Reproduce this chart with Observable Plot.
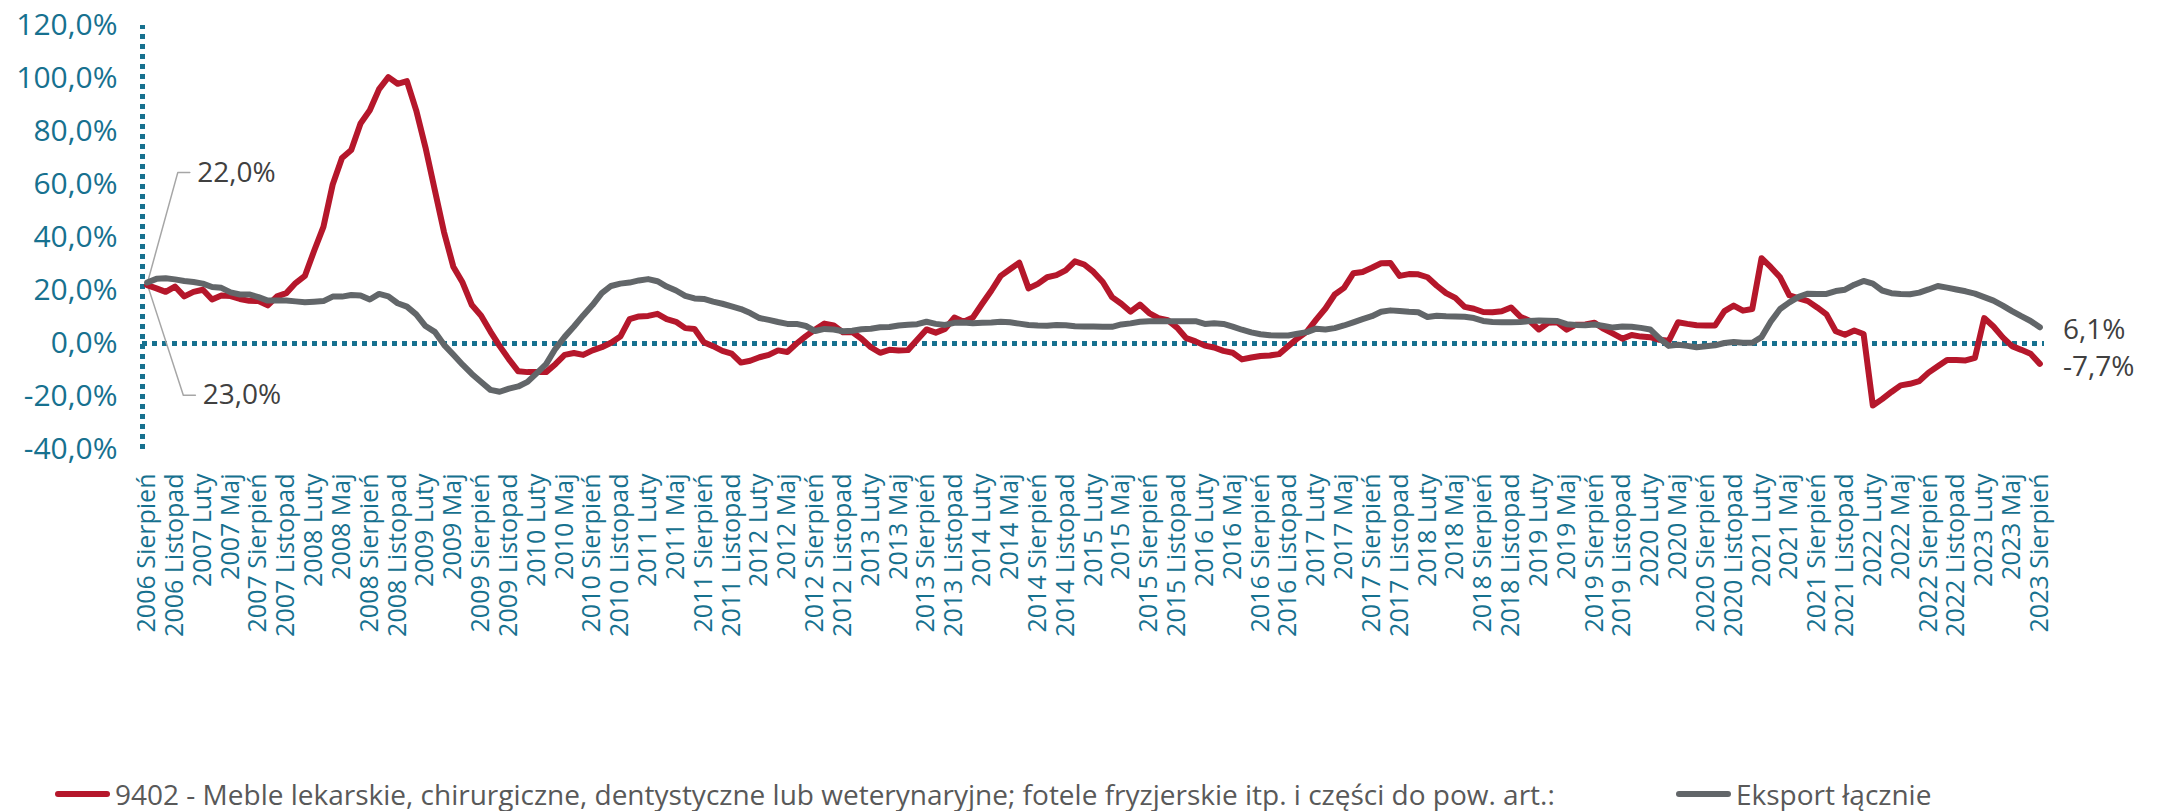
<!DOCTYPE html>
<html>
<head>
<meta charset="utf-8">
<script src="https://cdn.jsdelivr.net/npm/d3@7"></script>
<script src="https://cdn.jsdelivr.net/npm/@observablehq/plot@0.6"></script>
<style>
  html, body { margin: 0; padding: 0; background: #ffffff; }
  #wrap { position: relative; width: 2164px; height: 811px; background: #fff; }
  .leg { position: absolute; top: 777px; height: 34px; line-height: 34px; display: flex; align-items: center;
         font-family: "Open Sans", sans-serif; font-size: 28px; color: #595959; white-space: nowrap; }
  .sw { display: inline-block; width: 55px; height: 6px; border-radius: 3px; margin-right: 5px; }
</style>
</head>
<body>
<div id="wrap">
  <div id="chart"></div>
  <div class="leg" style="left:55px"><span class="sw" style="background:#b5172b"></span><span id="l1"></span></div>
  <div class="leg" style="left:1676px"><span class="sw" style="background:#626669"></span><span id="l2"></span></div>
</div>
<script>
// ---- data ----
const seriesNames = [
  "9402 - Meble lekarskie, chirurgiczne, dentystyczne lub weterynaryjne; fotele fryzjerskie itp. i części do pow. art.:",
  "Eksport łącznie"
];

// monthly, 2006 Sierpień .. 2023 Sierpień (205 months), % y/y
const meble = [
  22.0, 20.8, 19.5, 21.5, 17.8, 19.5, 20.3, 16.6, 18.1, 17.9,
  16.8, 16.1, 16.0, 14.4, 17.8, 19.0, 22.8, 25.5, 35.0, 44.0,
  60.0, 70.0, 73.0, 83.0, 88.0, 96.0, 100.5, 98.0, 99.0, 88.0,
  74.0, 58.0, 42.0, 29.0, 23.0, 14.5, 10.5, 4.5, -1.0, -6.0,
  -10.5, -10.8, -10.8, -10.8, -7.8, -4.3, -3.6, -4.3, -2.6, -1.4,
  0.3, 2.6, 9.2, 10.2, 10.4, 11.2, 9.2, 8.2, 5.8, 5.5,
  0.5, -1.0, -2.8, -3.8, -7.2, -6.5, -5.2, -4.3, -2.6, -3.2,
  0.0, 2.8, 5.3, 7.5, 6.8, 4.2, 4.3, 1.8, -1.4, -3.5,
  -2.4, -2.6, -2.5, 1.4, 5.3, 4.1, 5.5, 9.8, 8.2, 9.8,
  15.0, 20.0, 25.5, 28.0, 30.5, 20.8, 22.5, 25.0, 25.8, 27.6,
  31.0, 29.8, 27.0, 23.2, 17.5, 15.0, 12.0, 14.7, 11.5, 9.6,
  8.8, 6.0, 2.0, 0.8, -0.8, -1.5, -2.8, -3.5, -6.0, -5.3,
  -4.7, -4.5, -4.0, -1.0, 2.0, 4.5, 9.0, 13.2, 18.5, 21.0,
  26.5, 27.0, 28.6, 30.3, 30.4, 25.5, 26.2, 26.1, 25.0, 21.8,
  19.0, 17.2, 13.8, 13.1, 11.9, 11.8, 12.2, 13.6, 10.1, 8.6,
  5.3, 7.8, 8.0, 5.2, 7.1, 7.2, 7.8, 5.5, 3.7, 1.8,
  3.2, 2.6, 2.4, 1.4, 1.0, 8.0, 7.4, 6.9, 6.8, 6.8,
  12.2, 14.3, 12.4, 13.0, 32.2, 28.8, 25.0, 18.2, 17.0, 16.0,
  13.6, 11.0, 4.6, 3.3, 4.9, 3.6, -23.4, -21.0, -18.3, -15.8,
  -15.2, -14.2, -11.0, -8.6, -6.2, -6.2, -6.4, -5.4, 9.6, 6.4,
  2.3, -1.0, -2.4, -3.9, -7.7
];

const eksport = [
  23.0, 24.4, 24.6, 24.2, 23.6, 23.2, 22.6, 21.3, 21.0, 19.3,
  18.5, 18.5, 17.5, 16.2, 16.2, 16.2, 15.9, 15.6, 15.8, 16.0,
  17.7, 17.7, 18.3, 18.1, 16.6, 18.7, 17.8, 15.2, 13.9, 11.0,
  6.6, 4.4, -0.5, -4.2, -8.0, -11.5, -14.5, -17.5, -18.2, -17.0,
  -16.2, -14.5, -11.2, -7.8, -2.0, 2.5, 6.4, 10.6, 14.5, 19.0,
  21.7, 22.6, 23.0, 23.8, 24.3, 23.5, 21.5, 20.0, 18.0, 17.0,
  16.8, 15.8, 15.0, 14.0, 13.0, 11.5, 9.6, 8.9, 8.1, 7.4,
  7.4, 6.6, 4.7, 5.5, 5.3, 4.6, 4.8, 5.4, 5.6, 6.1,
  6.2, 6.8, 7.1, 7.3, 8.2, 7.4, 7.0, 7.8, 7.9, 7.6,
  7.8, 7.9, 8.2, 8.0, 7.5, 7.0, 6.8, 6.7, 7.0, 6.9,
  6.5, 6.4, 6.4, 6.3, 6.3, 7.2, 7.6, 8.2, 8.4, 8.4,
  8.4, 8.4, 8.4, 8.4, 7.4, 7.6, 7.4, 6.4, 5.2, 4.2,
  3.5, 3.1, 3.0, 3.0, 3.7, 4.3, 5.6, 5.3, 5.8, 6.8,
  8.0, 9.2, 10.3, 12.0, 12.5, 12.3, 12.0, 11.8, 10.0, 10.5,
  10.3, 10.2, 10.1, 9.6, 8.5, 8.1, 8.0, 8.0, 8.1, 8.5,
  8.7, 8.6, 8.5, 7.3, 7.0, 6.9, 7.2, 6.6, 6.0, 6.4,
  6.3, 5.9, 5.3, 1.9, -0.9, -0.5, -0.9, -1.4, -1.0, -0.7,
  0.2, 0.6, 0.3, 0.3, 2.4, 8.3, 13.0, 15.5, 17.6, 18.8,
  18.7, 18.7, 19.8, 20.3, 22.2, 23.6, 22.6, 20.0, 19.0, 18.7,
  18.6, 19.2, 20.4, 21.7, 21.1, 20.4, 19.7, 18.8, 17.5, 16.2,
  14.3, 12.2, 10.3, 8.5, 6.1
];

// category tick labels, every third month
const tickLabels = [
  "2006 Sierpień", "2006 Listopad",
  "2007 Luty", "2007 Maj", "2007 Sierpień", "2007 Listopad",
  "2008 Luty", "2008 Maj", "2008 Sierpień", "2008 Listopad",
  "2009 Luty", "2009 Maj", "2009 Sierpień", "2009 Listopad",
  "2010 Luty", "2010 Maj", "2010 Sierpień", "2010 Listopad",
  "2011 Luty", "2011 Maj", "2011 Sierpień", "2011 Listopad",
  "2012 Luty", "2012 Maj", "2012 Sierpień", "2012 Listopad",
  "2013 Luty", "2013 Maj", "2013 Sierpień", "2013 Listopad",
  "2014 Luty", "2014 Maj", "2014 Sierpień", "2014 Listopad",
  "2015 Luty", "2015 Maj", "2015 Sierpień", "2015 Listopad",
  "2016 Luty", "2016 Maj", "2016 Sierpień", "2016 Listopad",
  "2017 Luty", "2017 Maj", "2017 Sierpień", "2017 Listopad",
  "2018 Luty", "2018 Maj", "2018 Sierpień", "2018 Listopad",
  "2019 Luty", "2019 Maj", "2019 Sierpień", "2019 Listopad",
  "2020 Luty", "2020 Maj", "2020 Sierpień", "2020 Listopad",
  "2021 Luty", "2021 Maj", "2021 Sierpień", "2021 Listopad",
  "2022 Luty", "2022 Maj", "2022 Sierpień", "2022 Listopad",
  "2023 Luty", "2023 Maj", "2023 Sierpień"
];
const tickStep = 3;

const yTicks = [-40, -20, 0, 20, 40, 60, 80, 100, 120];

// data labels (in data units)
const startLabels = [
  {x: 5.4, y: 64.5, text: "22,0%"},
  {x: 6.0, y: -19.5, text: "23,0%"}
];
const leaderTop = [{x: 0, y: 22.5}, {x: 3.3, y: 64.5}, {x: 4.6, y: 64.5}];
const leaderBottom = [{x: 0, y: 22.5}, {x: 3.9, y: -19.5}, {x: 5.2, y: -19.5}];
const endLabels = [
  {x: 206.5, y: 4.9, text: "6,1%"},
  {x: 206.5, y: -9.0, text: "-7,7%"}
];

// ---- styles ----
const RED = "#b5172b";
const GRAY = "#626669";
const TEAL = "#17718f";

const n = meble.length;
const rows1 = meble.map((v, i) => ({i, v}));
const rows2 = eksport.map((v, i) => ({i, v}));
const tickIdx = tickLabels.map((_, k) => k * tickStep);

document.getElementById("l1").textContent = seriesNames[0];
document.getElementById("l2").textContent = seriesNames[1];

const fmtPct = d => d.toFixed(1).replace(".", ",") + "%";

const chart = Plot.plot({
  width: 2164,
  height: 770,
  marginLeft: 142,
  marginRight: 120,
  marginTop: 25,
  marginBottom: 321,
  style: {fontFamily: "'Open Sans', sans-serif", background: "#ffffff", overflow: "visible"},
  x: {domain: [-0.5, n - 0.5]},
  y: {domain: [-40, 120]},
  marks: [
    Plot.axisY({ticks: yTicks, tickFormat: fmtPct, tickSize: 0, tickPadding: 25,
                fontSize: 30, color: TEAL, label: null}),
    Plot.axisX({ticks: tickIdx, tickFormat: i => tickLabels[i / tickStep], tickRotate: -90,
                tickSize: 0, tickPadding: 24, fontSize: 25, color: TEAL, label: null}),
    Plot.ruleY([0], {x1: -0.5, x2: n - 0.5, stroke: TEAL, strokeWidth: 5, strokeDasharray: "5,5"}),
    Plot.ruleX([-0.5], {y1: -40, y2: 120, stroke: TEAL, strokeWidth: 5, strokeDasharray: "5,5"}),
    Plot.line(leaderTop, {x: "x", y: "y", stroke: "#a6a6a6", strokeWidth: 1.5}),
    Plot.line(leaderBottom, {x: "x", y: "y", stroke: "#a6a6a6", strokeWidth: 1.5}),
    Plot.line(rows1, {x: "i", y: "v", stroke: RED, strokeWidth: 6, strokeLinejoin: "round", strokeLinecap: "round"}),
    Plot.line(rows2, {x: "i", y: "v", stroke: GRAY, strokeWidth: 6, strokeLinejoin: "round", strokeLinecap: "round"}),
    Plot.text(startLabels, {x: "x", y: "y", text: "text", textAnchor: "start", fontSize: 28, fill: "#404040"}),
    Plot.text(endLabels, {x: "x", y: "y", text: "text", textAnchor: "start", fontSize: 28, fill: "#404040"})
  ]
});
document.getElementById("chart").appendChild(chart);
</script>
</body>
</html>
